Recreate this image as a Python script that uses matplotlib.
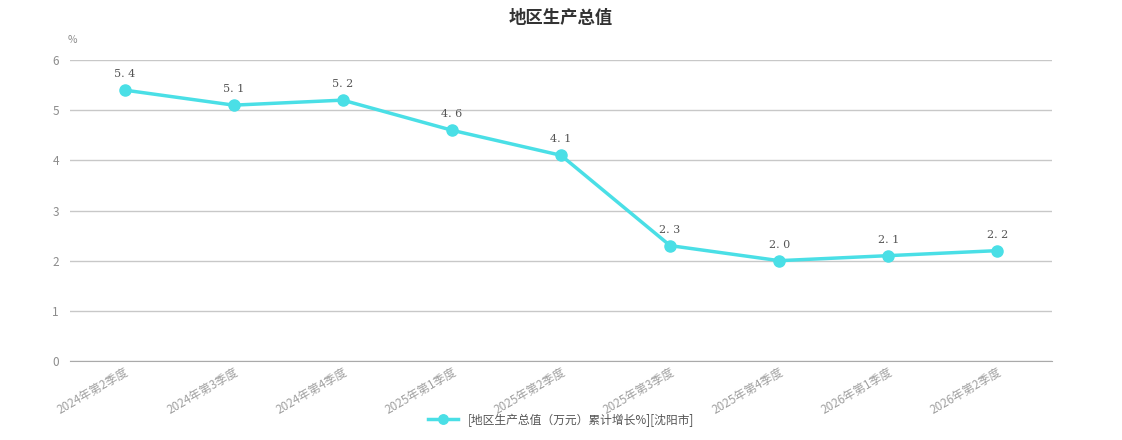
import numpy as np
import matplotlib.pyplot as plt

plt.rcParams['font.family'] = ['Noto Sans CJK SC', 'DejaVu Sans']

# data
quarters = ['2024年第2季度', '2024年第3季度', '2024年第4季度', '2025年第1季度', '2025年第2季度',
            '2025年第3季度', '2025年第4季度', '2026年第1季度', '2026年第2季度']
growth = [5.4, 5.1, 5.2, 4.6, 4.1, 2.3, 2.0, 2.1, 2.2]
series_name = '[地区生产总值（万元）累计增长%][沈阳市]'

line_color = '#4adfe6'
grey = '#8c8c8c'

fig = plt.figure(figsize=(11.22, 4.40), dpi=100)
ax = fig.add_axes([70 / 1122, 1 - 361 / 440, 982 / 1122, 301 / 440])

x = np.arange(len(quarters))
ax.plot(x, growth, color=line_color, lw=2.5, marker='o', ms=8, label=series_name, zorder=3)
for xi, v in zip(x, growth):
    ax.annotate(f'{v:.1f}'.replace('.', '. '), (xi, v), xytext=(0, 8), textcoords='offset points',
                ha='center', va='bottom', fontsize=8, color='#555555', family='DejaVu Serif')

ax.set_xlim(-0.5, len(quarters) - 0.5)
ax.set_ylim(0, 6)
ax.set_yticks(range(0, 7))
ax.yaxis.grid(True, color='#c8c8c8', lw=1)
ax.set_axisbelow(True)
for s in ['top', 'right', 'left']:
    ax.spines[s].set_visible(False)
ax.spines['bottom'].set_color('#aaaaaa')
ax.tick_params(axis='y', length=0, pad=8, labelsize=8.5, labelcolor=grey)
ax.tick_params(axis='x', length=0, pad=3, labelsize=8.5, labelcolor='#a0a0a0')
ax.set_xticks(x)
ax.set_xticklabels(quarters, rotation=30, ha='right', rotation_mode='anchor')

fig.text(68 / 1122, 1 - 40 / 440, '%', fontsize=7.5, color=grey, ha='left', va='center')
fig.text(0.5, 1 - 18 / 440, '地区生产总值', fontsize=12.5, fontweight='bold', color='#333333',
         ha='center', va='center')

fig.legend(loc='center', bbox_to_anchor=(0.5, 1 - 420 / 440), frameon=False, fontsize=8.5,
           labelcolor='#555555', handlelength=2.6, markerscale=0.85)

fig.savefig('out.png', dpi=100)
